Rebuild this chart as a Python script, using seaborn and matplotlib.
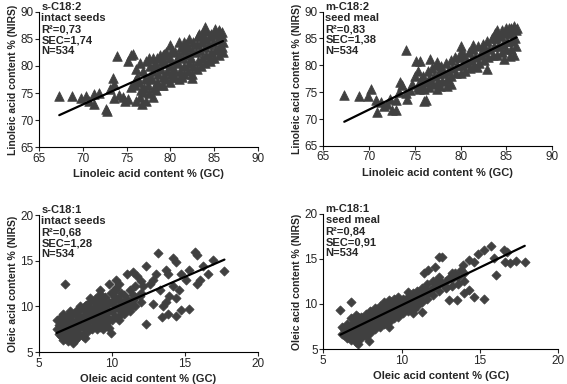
import matplotlib
matplotlib.use("Agg")
import matplotlib.pyplot as plt
import seaborn as sns

# s-C18:2, intact seeds (linoleic, NIRS vs GC)
lin_s_gc = [67.3, 68.8, 69.8, 70.3, 70.7, 71.3, 71.8, 71.3, 72.6, 72.8, 73.1, 73.4, 73.6, 73.9,
            73.6, 74.1, 74.6, 74.8, 75.2, 75.2, 75.5, 75.7, 75.5, 75.9, 76.1, 76.5, 76.7, 76.9,
            77.2, 78.0, 78.4, 78.6, 79.1, 80.3, 81.3, 82.5, 84.5, 83.9, 84.0, 85.2, 85.6, 85.9,
            83.3, 81.8, 81.0, 79.9, 79.3, 78.8, 78.0,
            76.0, 76.2, 76.1, 76.6, 76.4, 76.5, 77.0, 77.1, 76.9, 77.2, 77.6, 77.4, 77.5, 77.7, 77.6,
            78.1, 77.9, 78.0, 78.2, 78.5, 78.6, 78.4, 78.5, 79.0, 79.1, 78.9, 79.0, 79.2,
            79.5, 79.6, 79.4, 79.5, 80.0, 80.1, 79.9, 80.0, 80.2, 80.5, 80.4, 80.6, 80.5,
            81.0, 81.1, 80.9, 81.0, 81.2, 81.5, 81.6, 81.4, 81.5, 81.6, 82.0, 82.1, 81.9, 82.0, 82.1,
            82.5, 82.6, 82.4, 82.5, 82.6, 83.0, 83.1, 82.9, 83.0, 83.1, 83.5, 83.6, 83.4, 83.5, 83.6,
            84.0, 84.1, 83.9, 84.0, 84.1, 84.5, 84.6, 84.4, 84.5, 84.6, 85.0, 85.1, 84.9, 85.0, 85.1,
            85.5, 85.6, 85.4, 85.5, 86.0, 85.9, 86.0, 85.9]
lin_s_nirs = [74.4, 74.4, 74.1, 74.4, 73.6, 74.8, 75.0, 72.9, 72.1, 71.7, 75.8, 77.7, 76.7, 81.8,
              74.0, 74.6, 74.3, 73.6, 73.9, 81.0, 82.0, 82.3, 76.1, 77.3, 73.6, 74.3, 73.0, 75.2,
              73.6, 74.3, 75.5, 76.7, 76.4, 78.0, 78.0, 77.8, 81.4, 86.7, 87.2, 86.1, 86.6, 86.3,
              86.0, 84.1, 84.4, 83.8, 82.3, 82.0, 81.4,
              76.5, 78.0, 79.5, 75.5, 77.0, 80.5, 76.0, 77.5, 79.0, 81.0, 75.0, 76.5, 78.0, 80.0, 81.5,
              76.0, 77.5, 79.0, 80.5, 77.0, 78.5, 80.0, 81.5, 76.5, 78.0, 79.5, 81.0, 82.0,
              77.5, 79.0, 80.5, 82.5, 77.0, 78.5, 80.0, 81.5, 83.0, 78.0, 79.5, 81.0, 82.5,
              77.5, 79.0, 80.5, 82.0, 83.5, 78.5, 80.0, 81.5, 83.0, 84.5, 79.0, 80.5, 82.0, 83.5, 85.0,
              78.5, 80.0, 81.5, 83.0, 84.5, 79.5, 81.0, 82.5, 84.0, 85.5, 80.0, 81.5, 83.0, 84.5, 86.0,
              80.5, 82.0, 83.5, 85.0, 86.5, 81.0, 82.5, 84.0, 85.5, 86.0, 81.5, 83.0, 84.5, 86.0, 86.8,
              82.0, 83.5, 85.0, 86.5, 82.5, 83.5, 84.5, 85.5]

# m-C18:2, seed meal
lin_m_gc = [67.3, 68.9, 69.9, 70.2, 70.8, 70.9, 71.3, 71.6, 72.0, 72.5, 72.9, 72.3, 72.9, 73.4,
            73.6, 73.3, 74.0, 74.0, 74.2, 74.5, 75.1, 75.6, 75.0, 75.3, 74.7, 75.3, 75.8, 76.0,
            76.2, 76.7, 77.4, 77.8, 76.5, 77.4, 77.8, 78.5, 78.9, 80.0, 81.4, 82.5, 81.8, 82.9,
            83.7, 84.0, 85.3, 85.8, 86.1, 85.4, 85.8, 84.7,
            75.5, 75.6, 76.0, 76.1, 75.9, 76.5, 76.6, 76.4, 77.0, 77.1, 76.9, 77.5, 77.6, 77.4,
            78.0, 78.1, 77.9, 78.5, 78.6, 78.4, 79.0, 79.1, 78.9, 79.5, 79.6, 79.4,
            80.0, 80.1, 79.9, 80.0, 80.5, 80.6, 80.4, 81.0, 81.1, 80.9, 81.5, 81.6, 81.4,
            82.0, 82.1, 81.9, 82.5, 82.6, 82.4, 83.0, 83.1, 82.9, 83.5, 83.6, 83.4,
            84.0, 84.1, 83.9, 84.0, 84.5, 84.6, 84.4, 84.5, 85.0, 85.1, 84.9, 85.0,
            85.5, 85.6, 85.4, 85.5, 86.0, 85.9, 86.0]
lin_m_nirs = [74.5, 74.2, 74.2, 75.6, 73.6, 71.4, 73.1, 72.5, 72.8, 71.6, 71.6, 73.8, 73.6, 76.9,
              76.3, 75.1, 82.9, 74.8, 73.8, 75.4, 80.8, 80.8, 78.0, 78.9, 76.5, 75.9, 76.2, 73.3,
              73.6, 81.2, 80.6, 79.0, 77.4, 75.6, 76.2, 76.2, 76.5, 83.5, 83.8, 83.3, 79.6, 79.3,
              86.0, 86.6, 87.0, 87.3, 87.0, 81.7, 82.0, 81.1,
              75.5, 77.0, 75.5, 76.8, 78.0, 76.0, 77.5, 79.0, 76.5, 78.0, 79.5, 77.0, 78.5, 80.0,
              77.0, 78.5, 79.8, 77.5, 79.0, 80.5, 78.0, 79.5, 81.0, 78.5, 80.0, 81.5,
              78.5, 80.0, 81.5, 82.5, 79.0, 80.5, 82.0, 79.5, 81.0, 82.5, 80.0, 81.5, 83.0,
              80.5, 82.0, 83.5, 81.0, 82.5, 84.0, 81.5, 83.0, 84.5, 82.0, 83.5, 85.0,
              82.0, 83.5, 85.0, 86.0, 82.5, 84.0, 85.5, 86.5, 83.0, 84.5, 86.0, 87.0,
              83.0, 84.5, 86.0, 87.0, 83.5, 85.0, 86.5]

# s-C18:1, intact seeds (oleic)
ole_s_gc = [6.8, 12.35, 13.4, 13.8, 14.4, 14.75, 15.3, 12.8, 13.5, 13.7, 13.15, 12.3, 14.2, 14.4,
            15.7, 15.8, 15.3, 16.2, 16.9, 16.6, 17.7, 15.8, 16.0, 14.75, 15.1, 14.2, 14.6, 13.9,
            14.4, 13.3, 11.4, 11.7, 11.0, 10.3, 10.5, 9.8, 10.2, 9.2, 9.3, 8.5, 12.1, 12.6, 12.8,
            13.0, 13.7, 13.8, 11.4, 11.9, 11.0, 10.5, 9.8, 9.9, 9.2, 9.4,
            6.2, 6.2, 6.5, 6.5, 6.5, 6.8, 6.8, 6.8, 6.9, 7.0, 7.0, 7.0, 7.1, 7.3, 7.3, 7.3, 7.2,
            7.6, 7.6, 7.6, 7.5, 8.0, 8.0, 8.0, 7.9, 8.3, 8.3, 8.3, 8.2, 8.6, 8.6, 8.6, 8.5,
            9.0, 9.0, 9.0, 8.9, 9.1, 9.3, 9.3, 9.3, 9.2, 9.6, 9.6, 9.6, 9.5,
            10.0, 10.0, 10.0, 9.9, 10.4, 10.4, 10.4, 10.3, 10.8, 10.8, 10.8,
            11.2, 11.2, 11.2, 11.6, 11.6, 11.6, 12.0, 12.0, 12.0,
            6.35, 6.35, 6.65, 6.65, 6.65, 6.65, 6.95, 6.95, 6.95, 7.15, 7.15, 7.15, 7.15,
            7.45, 7.45, 7.45, 7.45, 7.8, 7.8, 7.8, 7.8, 8.15, 8.15, 8.15, 8.15, 8.15,
            8.45, 8.45, 8.45, 8.8, 8.8, 8.8, 8.8, 9.15, 9.15, 9.15, 9.15, 9.45, 9.45, 9.45,
            9.8, 9.8, 9.8, 10.2, 10.2, 10.2, 10.6, 10.6, 10.6, 11.0, 11.0, 11.4, 11.4]
ole_s_nirs = [12.4, 8.1, 8.8, 9.2, 9.0, 9.6, 9.7, 10.3, 10.0, 10.5, 15.8, 14.4, 15.3, 14.9,
              16.0, 15.6, 14.0, 14.4, 15.1, 13.5, 13.9, 12.5, 12.9, 13.6, 12.9, 12.2, 11.8, 11.1,
              10.9, 11.8, 13.8, 13.3, 13.6, 12.9, 12.5, 12.4, 11.8, 11.8, 11.1, 10.9, 12.2, 12.5, 12.9,
              13.6, 14.0, 13.5, 10.7, 11.1, 9.8, 8.5, 7.6, 7.1, 8.2, 7.5,
              7.5, 8.5, 6.8, 7.8, 8.8, 6.5, 7.5, 8.5, 9.0, 6.2, 7.2, 8.2, 9.2, 6.0, 7.0, 8.0, 9.0,
              6.5, 7.5, 8.5, 9.5, 6.8, 7.8, 8.8, 9.8, 7.2, 8.2, 9.2, 10.2, 7.5, 8.5, 9.5, 10.5,
              7.5, 8.5, 9.5, 10.5, 11.2, 8.0, 9.0, 10.0, 11.0, 8.0, 9.0, 10.0, 11.0,
              8.5, 9.5, 10.5, 11.5, 8.8, 9.8, 10.8, 12.0, 9.2, 10.2, 11.2,
              9.5, 10.5, 11.8, 10.0, 11.0, 12.2, 10.5, 11.5, 12.8,
              7.0, 8.0, 6.3, 7.3, 8.3, 9.2, 6.8, 7.7, 8.7, 6.5, 7.5, 8.5, 9.5,
              6.3, 7.3, 8.3, 9.3, 7.0, 8.0, 9.0, 10.0, 6.5, 7.5, 8.5, 9.5, 10.0,
              7.8, 8.8, 9.8, 8.0, 9.0, 10.0, 10.8, 7.8, 8.8, 9.8, 10.6, 8.5, 9.5, 10.5,
              8.5, 9.5, 10.5, 9.0, 10.0, 11.0, 9.5, 10.5, 11.5, 9.8, 10.8, 10.2, 11.2]

# m-C18:1, seed meal
ole_m_gc = [6.1, 6.8, 7.9, 7.2, 9.2, 10.7, 10.8, 11.3, 11.4, 11.7, 12.4, 12.6, 12.1, 13.0,
            13.5, 13.9, 14.3, 14.6, 15.25, 14.0, 14.3, 14.6, 14.9, 15.25, 15.7, 15.9, 16.0, 16.5,
            16.7, 16.6, 16.9, 17.3, 17.85, 13.8, 13.4, 13.0, 12.6, 12.8, 12.1, 12.3, 11.9, 11.5,
            11.7, 11.2, 10.9, 10.35,
            6.2, 6.2, 6.5, 6.5, 6.5, 6.8, 6.8, 6.8, 6.8, 7.1, 7.1, 7.1, 7.1, 7.1, 7.4, 7.4, 7.4, 7.4,
            7.7, 7.7, 7.7, 7.7, 8.0, 8.0, 8.0, 8.0, 8.3, 8.3, 8.3, 8.3, 8.6, 8.6, 8.6, 8.6,
            8.9, 8.9, 8.9, 8.9, 9.2, 9.2, 9.2, 9.2, 9.5, 9.5, 9.5, 9.5, 9.8, 9.8, 9.8, 9.8,
            10.1, 10.1, 10.1, 10.4, 10.4, 10.4, 10.4, 10.7, 10.7, 10.7, 11.0, 11.0, 11.0,
            11.3, 11.3, 11.3, 11.6, 11.6, 11.6, 12.0, 12.0, 12.0, 12.4, 12.4, 12.4,
            12.8, 12.8, 13.2, 13.2, 13.2, 13.6, 13.6, 14.0, 14.0,
            6.35, 6.35, 6.95, 6.95, 6.95, 7.25, 7.25, 7.25, 7.25, 7.55, 7.55, 7.55,
            7.85, 7.85, 7.85, 8.15, 8.15, 8.15, 8.45, 8.45, 8.45, 8.75, 8.75, 8.75,
            9.05, 9.05, 9.05, 9.35, 9.35, 9.35, 9.65, 9.65, 9.95, 9.95, 10.25, 10.25,
            10.55, 10.55, 10.85, 10.85]
ole_m_nirs = [9.3, 10.2, 5.9, 5.6, 7.5, 9.0, 9.5, 9.1, 13.4, 13.8, 15.2, 15.2, 14.1, 10.4,
              10.4, 14.3, 11.6, 10.8, 10.6, 11.2, 14.9, 14.7, 15.6, 16.0, 16.4, 15.1, 13.2, 16.0,
              15.8, 14.7, 14.6, 14.8, 14.7, 13.8, 13.4, 12.9, 12.3, 11.9, 12.3, 12.7, 11.6, 11.6,
              11.2, 10.4, 10.8, 10.4,
              6.7, 7.4, 6.2, 7.0, 7.8, 6.0, 6.8, 7.6, 8.4, 5.8, 6.6, 7.4, 8.2, 8.8, 6.2, 7.0, 7.8, 8.6,
              6.5, 7.3, 8.1, 8.9, 6.8, 7.6, 8.4, 9.2, 7.2, 8.0, 8.8, 9.6, 7.4, 8.2, 9.0, 9.8,
              7.8, 8.6, 9.4, 10.2, 8.0, 8.8, 9.6, 10.4, 8.4, 9.2, 10.0, 10.6, 8.6, 9.4, 10.2, 10.8,
              9.0, 9.8, 10.6, 9.2, 10.0, 10.8, 11.3, 9.6, 10.4, 11.2, 9.8, 10.6, 11.4,
              10.2, 11.0, 11.8, 10.6, 11.4, 12.2, 11.0, 11.8, 12.6, 11.4, 12.2, 13.0,
              11.8, 12.6, 12.0, 12.8, 13.4, 12.2, 13.0, 12.6, 13.4,
              6.6, 7.2, 6.4, 7.2, 8.0, 6.2, 7.0, 7.8, 8.6, 6.9, 7.7, 8.5,
              7.2, 8.0, 8.8, 7.4, 8.2, 9.0, 7.8, 8.6, 9.4, 8.0, 8.8, 9.6,
              8.4, 9.2, 10.0, 8.6, 9.4, 10.2, 9.0, 9.8, 9.2, 10.0, 9.6, 10.4,
              9.8, 10.6, 10.2, 11.0]

# trend lines (slope, intercept)
fits = [(0.733, 21.57), (0.835, 13.30), (0.698, 2.77), (0.839, 1.48)]

notes = ["s-C18:2\nintact seeds\nR²=0,73\nSEC=1,74\nN=534",
         "m-C18:2\nseed meal\nR²=0,83\nSEC=1,38\nN=534",
         "s-C18:1\nintact seeds\nR²=0,68\nSEC=1,28\nN=534",
         "m-C18:1\nseed meal\nR²=0,84\nSEC=0,91\nN=534"]

sns.set_style("white")
plt.rcParams['font.family'] = ['Liberation Sans', 'DejaVu Sans']

fig = plt.figure(figsize=(5.67, 3.84), dpi=100)
boxes = [[0.069, 0.617, 0.386, 0.352],
         [0.570, 0.620, 0.404, 0.350],
         [0.069, 0.083, 0.386, 0.357],
         [0.570, 0.091, 0.415, 0.352]]

panels = [(lin_s_gc, lin_s_nirs, "^", 48, (65, 90), "Linoleic"),
          (lin_m_gc, lin_m_nirs, "^", 48, (65, 90), "Linoleic"),
          (ole_s_gc, ole_s_nirs, "D", 22, (5, 20), "Oleic"),
          (ole_m_gc, ole_m_nirs, "D", 22, (5, 20), "Oleic")]

grey = "#404040"
for i, (x, y, mk, ms, lim, name) in enumerate(panels):
    ax = fig.add_axes(boxes[i])
    sns.scatterplot(x=x, y=y, marker=mk, s=ms, color=grey, edgecolor=grey,
                    linewidth=0.5, ax=ax, zorder=2)
    k, b = fits[i]
    x0, x1 = min(x), max(x)
    ax.plot([x0, x1], [k * x0 + b, k * x1 + b], color="black", lw=1.6, zorder=3)
    ax.set_xlim(lim)
    ax.set_ylim(lim)
    ax.set_xticks(range(lim[0], lim[1] + 1, 5))
    ax.set_yticks(range(lim[0], lim[1] + 1, 5))
    ax.tick_params(direction="out", length=3, width=0.8, labelsize=8.5,
                   bottom=True, left=True, pad=1)
    sns.despine(ax=ax)
    for s in ["left", "bottom"]:
        ax.spines[s].set_color("black")
        ax.spines[s].set_linewidth(0.8)
    ax.set_xlabel(name + " acid content % (GC)", fontsize=8, fontweight="bold", labelpad=3)
    ax.set_ylabel(name + " acid content % (NIRS)", fontsize=7.5, fontweight="bold", labelpad=2)
    ax.text(0.01, 1.07, notes[i], transform=ax.transAxes, ha="left", va="top",
            fontsize=8, fontweight="bold", linespacing=1.12, clip_on=False)

fig.savefig("out.png", dpi=100)
